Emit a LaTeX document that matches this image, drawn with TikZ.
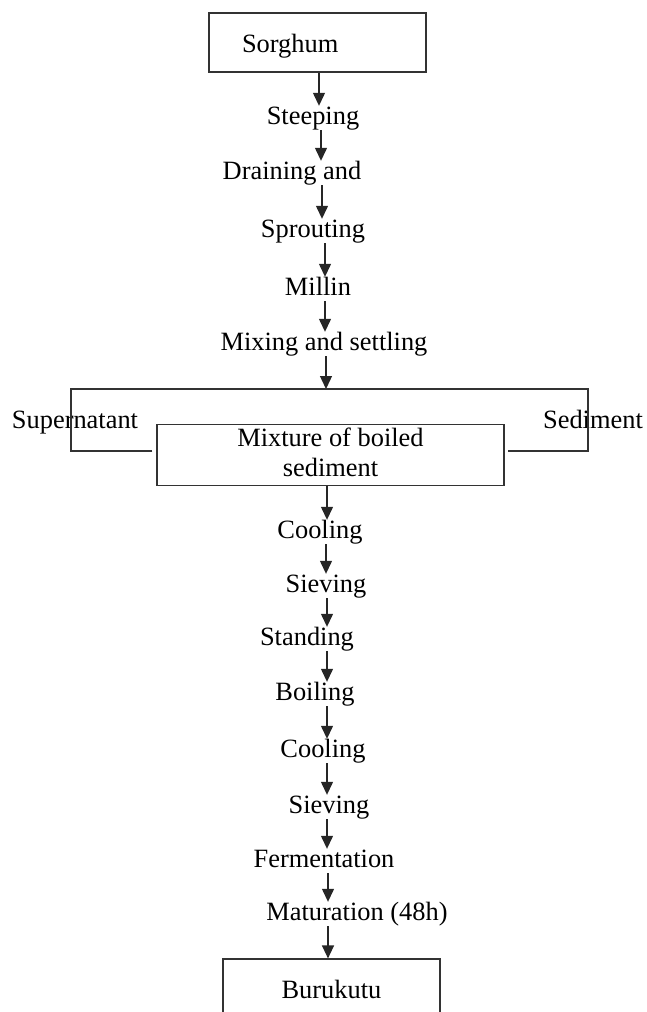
\documentclass[tikz,border=0pt]{standalone}
\usepackage{fontspec}
\setmainfont{Liberation Serif}
\usetikzlibrary{arrows.meta}
\usetikzlibrary{positioning}

\begin{document}
\begin{tikzpicture}[x=1pt,y=-1pt,font=\fontsize{26.4}{30}\selectfont]
\tikzset{steptext/.style={inner sep=0pt,text height=18pt,text depth=6pt,anchor=base},
stepbox/.style={draw=black!80,line width=1.2pt,rectangle,minimum width=217pt,minimum height=59pt,inner sep=0pt,text height=21pt,text depth=1pt},
flow/.style={draw=black!85,line width=1.3pt,-{Triangle[length=13pt,width=12pt]}},
bracket/.style={draw=black!80,line width=1.2pt}}
\clip (0,0) rectangle (647,1012);
\node[stepbox,align=left,text width=151pt,inner xsep=33pt](sorghum) at (317.5,42.5){Sorghum};
\node[steptext](steeping) at (313,124){Steeping};
\draw[flow](sorghum.south -| 319,0) -- (steeping.north -| 319,0);
\node[steptext](draining) at (292,179){Draining and};
\draw[flow](steeping.south -| 321,0) -- (draining.north -| 321,0);
\node[steptext](sprouting) at (313,237){Sprouting};
\draw[flow](draining.south -| 322,0) -- (sprouting.north -| 322,0);
\node[steptext](millin) at (318,295){Millin};
\draw[flow](sprouting.south -| 325,0) -- (millin.north -| 325,0);
\node[steptext](mixing) at (324,350){Mixing and settling};
\draw[flow](millin.south -| 325,0) -- (mixing.north -| 325,0);
\coordinate (split) at (326,389);
\draw[flow](mixing.south -| split) -- (split);
\node[steptext](supernatant) at (75,428){Supernatant};
\node[steptext](sediment) at (593,428){Sediment};
\node[stepbox,minimum width=347pt,minimum height=61pt,align=center,text height=48pt,text depth=6pt](boiled) at (330.5,455){Mixture of boiled\\sediment};
\coordinate (tl) at (71,389);
\coordinate (tr) at (588,389);
\coordinate (bl) at (71,451);
\coordinate (br) at (588,451);
\draw[bracket,shorten <=4pt,shorten >=3pt](boiled.west |- bl) -- (bl) -- (tl) -- (tr) -- (br) -- (boiled.east |- br);
\node[steptext](cooling) at (320,538){Cooling};
\draw[flow](boiled.south -| 327,0) -- (cooling.north -| 327,0);
\node[steptext](sieving) at (326,592){Sieving};
\draw[flow](cooling.south -| 326,0) -- (sieving.north -| 326,0);
\node[steptext](standing) at (307,645){Standing};
\draw[flow](sieving.south -| 327,0) -- (standing.north -| 327,0);
\node[steptext](boiling) at (315,700){Boiling};
\draw[flow](standing.south -| 327,0) -- (boiling.north -| 327,0);
\node[steptext](cooling2) at (323,757){Cooling};
\draw[flow](boiling.south -| 327,0) -- (cooling2.north -| 327,0);
\node[steptext](sieving2) at (329,813){Sieving};
\draw[flow](cooling2.south -| 327,0) -- (sieving2.north -| 327,0);
\node[steptext](fermentation) at (324,867){Fermentation};
\draw[flow](sieving2.south -| 327,0) -- (fermentation.north -| 327,0);
\node[steptext](maturation) at (357,920){Maturation (48h)};
\draw[flow](fermentation.south -| 328,0) -- (maturation.north -| 328,0);
\node[stepbox](burukutu) at (331.5,988.5){Burukutu};
\draw[flow](maturation.south -| 328,0) -- (burukutu.north -| 328,0);
\end{tikzpicture}
\end{document}
